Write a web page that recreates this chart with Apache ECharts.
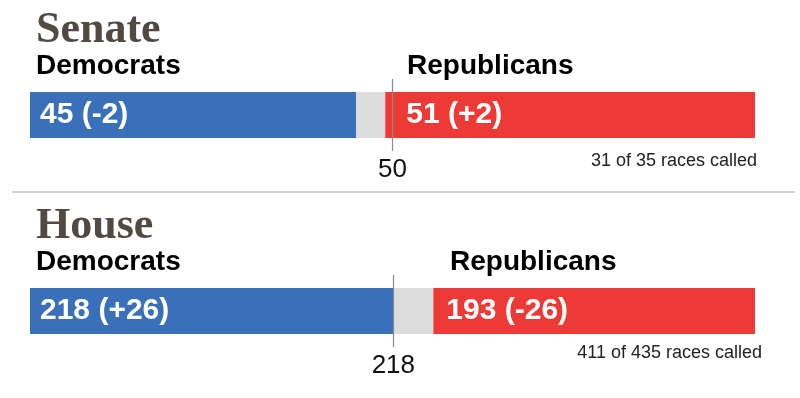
<!DOCTYPE html>
<html>
<head>
<meta charset="utf-8">
<script src="https://cdn.jsdelivr.net/npm/echarts@6/dist/echarts.min.js"></script>
<style>html,body{margin:0;padding:0;background:#fff}#c{width:800px;height:398px}</style>
</head>
<body>
<div id="c"></div>
<script>
// ---- data ----
const chambers = ['Senate', 'House'];
const totals = [100, 435];
const demSeats = [45, 218];
const uncalledSeats = [4, 24];
const repSeats = [51, 193];
const demChange = ['-2', '+26'];
const repChange = ['+2', '-26'];
const majority = [50, 218];
const calledNotes = ['31 of 35 races called', '411 of 435 races called'];
const partyNames = ['Democrats', 'Republicans'];

// ---- layout ----
const BLUE = '#3a6fba', RED = '#ee3a36', GRAY = '#dddddd';
const SANS = '"Liberation Sans", Arial, Helvetica, sans-serif';
const SERIF = '"Liberation Serif", "DejaVu Serif", serif';
const gridTops = [79, 275];
const repLabelDist = [21, 13];
const repHeaderX = [407, 450];
const headerY = [0, 196];

const chart = echarts.init(document.getElementById('c'), null, {renderer: 'canvas'});

const grids = [], xAxes = [], yAxes = [], series = [], graphics = [];
chambers.forEach((name, i) => {
  grids.push({left: 30, width: 725, top: gridTops[i], height: 72});
  xAxes.push({type: 'value', gridIndex: i, min: 0, max: totals[i], show: false});
  yAxes.push({type: 'category', gridIndex: i, data: [name], show: false});
  const common = {type: 'bar', xAxisIndex: i, yAxisIndex: i, stack: 's' + i, barWidth: 46, silent: true, animation: false};
  series.push(Object.assign({}, common, {
    name: 'dem' + i, data: [demSeats[i]], itemStyle: {color: BLUE},
    label: {show: true, position: 'insideLeft', distance: 10, color: '#fff', fontFamily: SANS, fontWeight: 'bold', fontSize: 30,
      formatter: p => p.value + ' (' + demChange[i] + ')'},
    markLine: {silent: true, symbol: 'none', animation: false,
      lineStyle: {color: '#8a8a8a', width: 1.2, type: 'solid'},
      label: {show: true, position: 'start', distance: 6, color: '#111', fontFamily: SANS, fontSize: 26, formatter: p => String(p.value)},
      data: [{xAxis: majority[i]}]}
  }));
  series.push(Object.assign({}, common, {name: 'unc' + i, data: [uncalledSeats[i]], itemStyle: {color: GRAY}}));
  series.push(Object.assign({}, common, {
    name: 'rep' + i, data: [repSeats[i]], itemStyle: {color: RED},
    label: {show: true, position: 'insideLeft', distance: repLabelDist[i], color: '#fff', fontFamily: SANS, fontWeight: 'bold', fontSize: 30,
      formatter: p => p.value + ' (' + repChange[i] + ')'}
  }));
  const hy = headerY[i];
  graphics.push({type: 'text', left: 36, top: hy + 9, style: {text: name, font: 'bold 44px ' + SERIF, fill: '#514a43'}});
  graphics.push({type: 'text', left: 36, top: hy + 52, style: {text: partyNames[0], font: 'bold 28px ' + SANS, fill: '#000'}});
  graphics.push({type: 'text', left: repHeaderX[i], top: hy + 52, style: {text: partyNames[1], font: 'bold 28px ' + SANS, fill: '#000'}});
});
graphics.push({type: 'text', right: 43, top: 152, style: {text: calledNotes[0], font: '18px ' + SANS, fill: '#222'}});
graphics.push({type: 'text', right: 38, top: 344, style: {text: calledNotes[1], font: '18px ' + SANS, fill: '#222'}});
graphics.push({type: 'line', shape: {x1: 12, y1: 192, x2: 795, y2: 192}, style: {stroke: '#c4c4c4', lineWidth: 1.5}});

chart.setOption({
  animation: false,
  grid: grids, xAxis: xAxes, yAxis: yAxes, series: series, graphic: graphics
});
</script>
</body>
</html>
